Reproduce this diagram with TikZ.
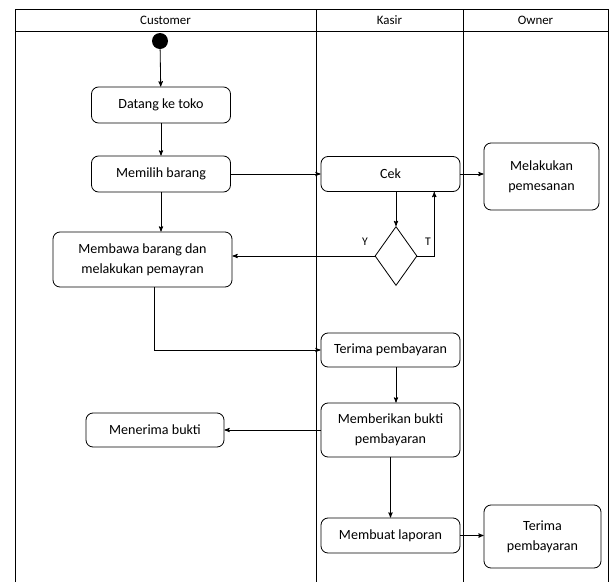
\documentclass[tikz,border=0pt]{standalone}
\usepackage{fontspec}
\setmainfont{Carlito}
\usetikzlibrary{arrows}
\usetikzlibrary{shapes.geometric,calc}

\tikzset{act/.style={draw, rounded corners=6pt, align=center, inner sep=2pt,
  font=\fontsize{12}{17}\selectfont}}

\begin{document}
\begin{tikzpicture}[x=.03cm, y=-.03cm, >=stealth', line width=.7pt]
\useasboundingbox (0,0) rectangle (610,582);
% swimlanes
\draw (15,582) -- (15,9) -- (608,9) -- (608,582);
\draw (15,31) -- (608,31);
\foreach \x in {316,463} {
 \draw (\x,9) -- (\x,582);
}
\foreach \x/\n/\t in {165.5/customer/Customer, 389.5/kasir/Kasir, 535.5/owner/Owner} {
 \node[font=\fontsize{11}{13}\selectfont] (\n) at (\x,20) {\t};
}
% activities
\node[circle, fill=black, minimum size=.48cm, inner sep=0] (start) at (160,41) {};
\node[act, minimum width=4.17cm, minimum height=1.08cm] (datang) at (161,105) {Datang ke toko};
\node[act, minimum width=4.17cm, minimum height=1.08cm] (pilih) at (161,174) {Memilih barang};
\node[act, minimum width=4.17cm, minimum height=1.05cm] (cek) at (390.5,174) {Cek};
\node[act, minimum width=3.45cm, minimum height=2.01cm] (pesan) at (541.5,176.5) {Melakukan\\pemesanan};
\node[draw, diamond, minimum width=1.26cm, minimum height=1.77cm, inner sep=0] (dec) at (396,256) {};
\node (y) at (365,242) {Y};
\node (t) at (428,242) {T};
\node[act, minimum width=5.37cm, minimum height=1.65cm] (bawa) at (142.5,259.5) {Membawa barang dan\\melakukan pemayran};
\node[act, minimum width=4.17cm, minimum height=1.02cm] (terima) at (390.5,350) {Terima pembayaran};
\node[act, minimum width=4.17cm, minimum height=1.62cm] (beri) at (390.5,430) {Memberikan bukti\\pembayaran};
\node[act, minimum width=4.14cm, minimum height=1.02cm] (bukti) at (155,430) {Menerima bukti};
\node[act, minimum width=4.17cm, minimum height=1.05cm] (laporan) at (390.5,535.5) {Membuat laporan};
\node[act, minimum width=3.51cm, minimum height=1.89cm] (terima2) at (542.5,536.5) {Terima\\pembayaran};
% flows
\draw[->] (start) -- (datang);
\draw[->] (datang) -- (pilih);
\draw[->] (pilih.south) -- (pilih.south |- bawa.north);
\draw[->] (pilih) -- (cek);
\draw[->] (cek.east) -- (cek.east -| pesan.west);
\draw[->] (dec.north |- cek.south) -- (dec.north);
\draw[->] (dec.east) -| ($(cek.south)!.626!(cek.south east)$);
\draw[->] (dec.west) -- (dec.west -| bawa.east);
\draw[->] ([xshift=.35cm]bawa.south) |- (terima.west);
\draw[->] (terima.south -| dec.north) -- (beri.north -| dec.north);
\draw[->] (beri) -- (bukti);
\draw[->] (beri) -- (laporan);
\draw[->] (laporan.east) -- (laporan.east -| terima2.west);
\end{tikzpicture}
\end{document}
